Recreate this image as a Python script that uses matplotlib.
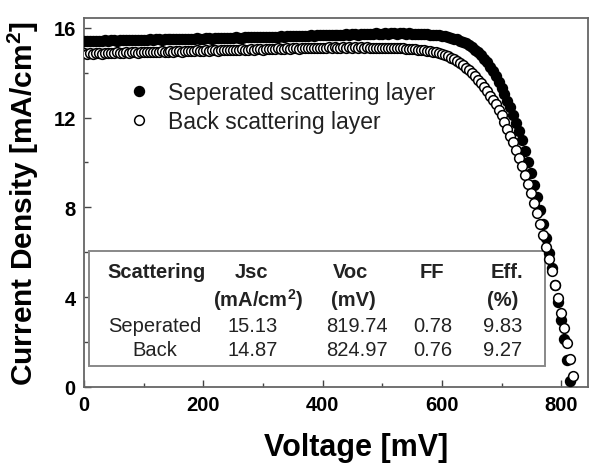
import matplotlib
matplotlib.use('Agg')
import matplotlib.pyplot as plt
from matplotlib.patches import Rectangle
from matplotlib.ticker import MultipleLocator

plt.rcParams['font.family'] = 'Liberation Sans'
plt.rcParams['mathtext.fontset'] = 'custom'
plt.rcParams['mathtext.rm'] = 'Liberation Sans'
plt.rcParams['mathtext.bf'] = 'Liberation Sans:bold'

# voltage sweep [mV]
voltage = [
    0, 5, 10, 15, 20, 25, 30, 35, 40, 45, 50, 55, 60, 65, 70, 75, 80, 85, 90, 95,
    100, 105, 110, 115, 120, 125, 130, 135, 140, 145, 150, 155, 160, 165, 170, 175, 180, 185, 190, 195,
    200, 205, 210, 215, 220, 225, 230, 235, 240, 245, 250, 255, 260, 265, 270, 275, 280, 285, 290, 295,
    300, 305, 310, 315, 320, 325, 330, 335, 340, 345, 350, 355, 360, 365, 370, 375, 380, 385, 390, 395,
    400, 405, 410, 415, 420, 425, 430, 435, 440, 445, 450, 455, 460, 465, 470, 475, 480, 485, 490, 495,
    500, 505, 510, 515, 520, 525, 530, 535, 540, 545, 550, 555, 560, 565, 570, 575, 580, 585, 590, 595,
    600, 605, 610, 615, 620, 625, 630, 635, 640, 645, 650, 655, 660, 665, 670, 675, 680, 685, 690, 695,
    700, 705, 710, 715, 720, 725, 730, 735, 740, 745, 750, 755, 760, 765, 770, 775, 780, 785, 790, 795,
    800, 805, 810, 815, 820, 825]

# seperated scattering layer [mA/cm2]
j_sep = [
    15.41, 15.42, 15.40, 15.42, 15.43, 15.41, 15.43, 15.44, 15.42, 15.44,
    15.45, 15.43, 15.44, 15.46, 15.45, 15.44, 15.46, 15.47, 15.45, 15.46,
    15.47, 15.46, 15.48, 15.47, 15.49, 15.48, 15.47, 15.49, 15.50, 15.48,
    15.49, 15.51, 15.50, 15.49, 15.51, 15.52, 15.50, 15.52, 15.53, 15.51,
    15.52, 15.54, 15.53, 15.52, 15.54, 15.55, 15.53, 15.55, 15.56, 15.54,
    15.55, 15.57, 15.56, 15.55, 15.57, 15.58, 15.57, 15.59, 15.58, 15.57,
    15.59, 15.60, 15.58, 15.60, 15.61, 15.60, 15.62, 15.61, 15.63, 15.62,
    15.63, 15.64, 15.62, 15.64, 15.65, 15.64, 15.66, 15.65, 15.67, 15.66,
    15.67, 15.68, 15.66, 15.68, 15.69, 15.68, 15.70, 15.69, 15.71, 15.70,
    15.71, 15.72, 15.70, 15.72, 15.73, 15.72, 15.74, 15.73, 15.75, 15.73,
    15.74, 15.75, 15.74, 15.76, 15.75, 15.74, 15.76, 15.75, 15.74, 15.75,
    15.74, 15.73, 15.74, 15.72, 15.73, 15.71, 15.70, 15.69, 15.68, 15.66,
    15.64, 15.62, 15.59, 15.56, 15.52, 15.48, 15.43, 15.37, 15.30, 15.22,
    15.13, 15.03, 14.91, 14.78, 14.63, 14.46, 14.27, 14.06, 13.83, 13.58,
    13.32, 13.05, 12.76, 12.45, 12.12, 11.77, 11.40, 10.98, 10.50, 10.02,
    9.52, 9.00, 8.45, 7.88, 7.28, 6.65, 5.98, 5.28, 4.55, 3.78,
    2.97, 2.12, 1.22, 0.28]

# back scattering layer [mA/cm2]
j_back = [
    14.86, 14.84, 14.87, 14.85, 14.88, 14.86, 14.84, 14.87, 14.89, 14.86,
    14.88, 14.90, 14.87, 14.89, 14.91, 14.88, 14.90, 14.92, 14.89, 14.91,
    14.93, 14.90, 14.92, 14.94, 14.91, 14.93, 14.95, 14.92, 14.94, 14.96,
    14.93, 14.95, 14.97, 14.94, 14.96, 14.98, 14.95, 14.97, 14.99, 14.96,
    14.98, 15.00, 14.97, 14.99, 15.01, 14.98, 15.00, 15.02, 14.99, 15.01,
    15.03, 15.00, 15.02, 15.04, 15.01, 15.03, 15.05, 15.02, 15.04, 15.06,
    15.03, 15.05, 15.07, 15.04, 15.06, 15.08, 15.05, 15.07, 15.09, 15.06,
    15.08, 15.10, 15.07, 15.09, 15.11, 15.08, 15.10, 15.12, 15.09, 15.11,
    15.12, 15.10, 15.13, 15.11, 15.14, 15.12, 15.10, 15.13, 15.11, 15.14,
    15.12, 15.13, 15.11, 15.14, 15.12, 15.13, 15.11, 15.12, 15.10, 15.12,
    15.11, 15.12, 15.10, 15.11, 15.09, 15.10, 15.08, 15.09, 15.07, 15.06,
    15.05, 15.04, 15.02, 15.01, 14.99, 14.98, 14.96, 14.94, 14.91, 14.88,
    14.85, 14.80, 14.74, 14.67, 14.60, 14.52, 14.43, 14.33, 14.22, 14.10,
    13.97, 13.83, 13.68, 13.52, 13.35, 13.17, 12.98, 12.78, 12.60, 12.35,
    12.10, 11.80, 11.50, 11.20, 10.90, 10.55, 10.20, 9.85, 9.45, 9.05,
    8.65, 8.20, 7.75, 7.25, 6.75, 6.25, 5.70, 5.15, 4.55, 3.95,
    3.30, 2.65, 1.95, 1.25, 0.50, -0.25]

# table of cell parameters
cell_names = ['Seperated', 'Back']
jsc = [15.13, 14.87]
voc = [819.74, 824.97]
ff = [0.78, 0.76]
eff = [9.83, 9.27]

fig = plt.figure(figsize=(6.0, 4.64), dpi=100)
ax = fig.add_axes([0.14, 0.1638, 0.84, 0.795])

ax.plot(voltage[:len(j_sep)], j_sep, 'o', color='black', ms=7.2, mew=1.0,
        mec='black', label='Seperated scattering layer', zorder=3)
ax.plot(voltage[:len(j_back)], j_back, 'o', mfc='white', mec='black', ms=7.0,
        mew=1.1, label='Back scattering layer', zorder=4)

ax.set_xlim(0, 845)
ax.set_ylim(0, 16.43)
ax.xaxis.set_major_locator(MultipleLocator(200))
ax.xaxis.set_minor_locator(MultipleLocator(100))
ax.yaxis.set_major_locator(MultipleLocator(4))
ax.yaxis.set_minor_locator(MultipleLocator(2))
ax.tick_params(which='both', direction='in', colors='#444444', width=1.0,
               top=False, right=False)
ax.tick_params(which='major', length=5, labelsize=14.5, labelcolor='black', pad=6)
ax.tick_params(which='minor', length=3)
for lab in ax.get_xticklabels() + ax.get_yticklabels():
    lab.set_fontweight('bold')
for sp in ax.spines.values():
    sp.set_color('#666666')
    sp.set_linewidth(1.3)

ax.set_xlabel('Voltage [mV]', fontsize=22, fontweight='bold', labelpad=13)
ax.xaxis.label.set_x(0.54)
ax.set_ylabel(r'Current Density [mA/cm$^{\mathbf{2}}$]', fontsize=21.5,
              fontweight='bold', labelpad=9)

leg = ax.legend(loc='upper left', bbox_to_anchor=(0.068, 0.855), frameon=False,
                fontsize=16.5, handletextpad=0.75, labelspacing=0.28,
                handlelength=1.0, borderaxespad=0)
for t in leg.get_texts():
    t.set_color('#222222')

# parameter table
box = Rectangle((0.01, 0.057), 0.905, 0.312, transform=ax.transAxes,
                facecolor='white', edgecolor='#888888', lw=1.4, zorder=2)
ax.add_patch(box)
tk = dict(transform=ax.transAxes, ha='center', va='center', zorder=5,
          fontsize=14.5, color='#222222')
ax.text(0.143, 0.314, 'Scattering', fontweight='bold', **tk)
ax.text(0.333, 0.314, 'Jsc', fontweight='bold', **tk)
ax.text(0.528, 0.314, 'Voc', fontweight='bold', **tk)
ax.text(0.690, 0.314, 'FF', fontweight='bold', **tk)
ax.text(0.839, 0.314, 'Eff.', fontweight='bold', **tk)
ax.text(0.345, 0.238, r'(mA/cm$^{\mathbf{2}}$)', fontweight='bold', **tk)
ax.text(0.534, 0.238, '(mV)', fontweight='bold', **tk)
ax.text(0.831, 0.238, '(%)', fontweight='bold', **tk)
rows_y = [0.168, 0.103]
for i in range(len(cell_names)):
    ax.text(0.141, rows_y[i], cell_names[i], **tk)
    ax.text(0.335, rows_y[i], '%.2f' % jsc[i], **tk)
    ax.text(0.542, rows_y[i], '%.2f' % voc[i], **tk)
    ax.text(0.692, rows_y[i], '%.2f' % ff[i], **tk)
    ax.text(0.831, rows_y[i], '%.2f' % eff[i], **tk)

fig.savefig('out.png', dpi=100)
